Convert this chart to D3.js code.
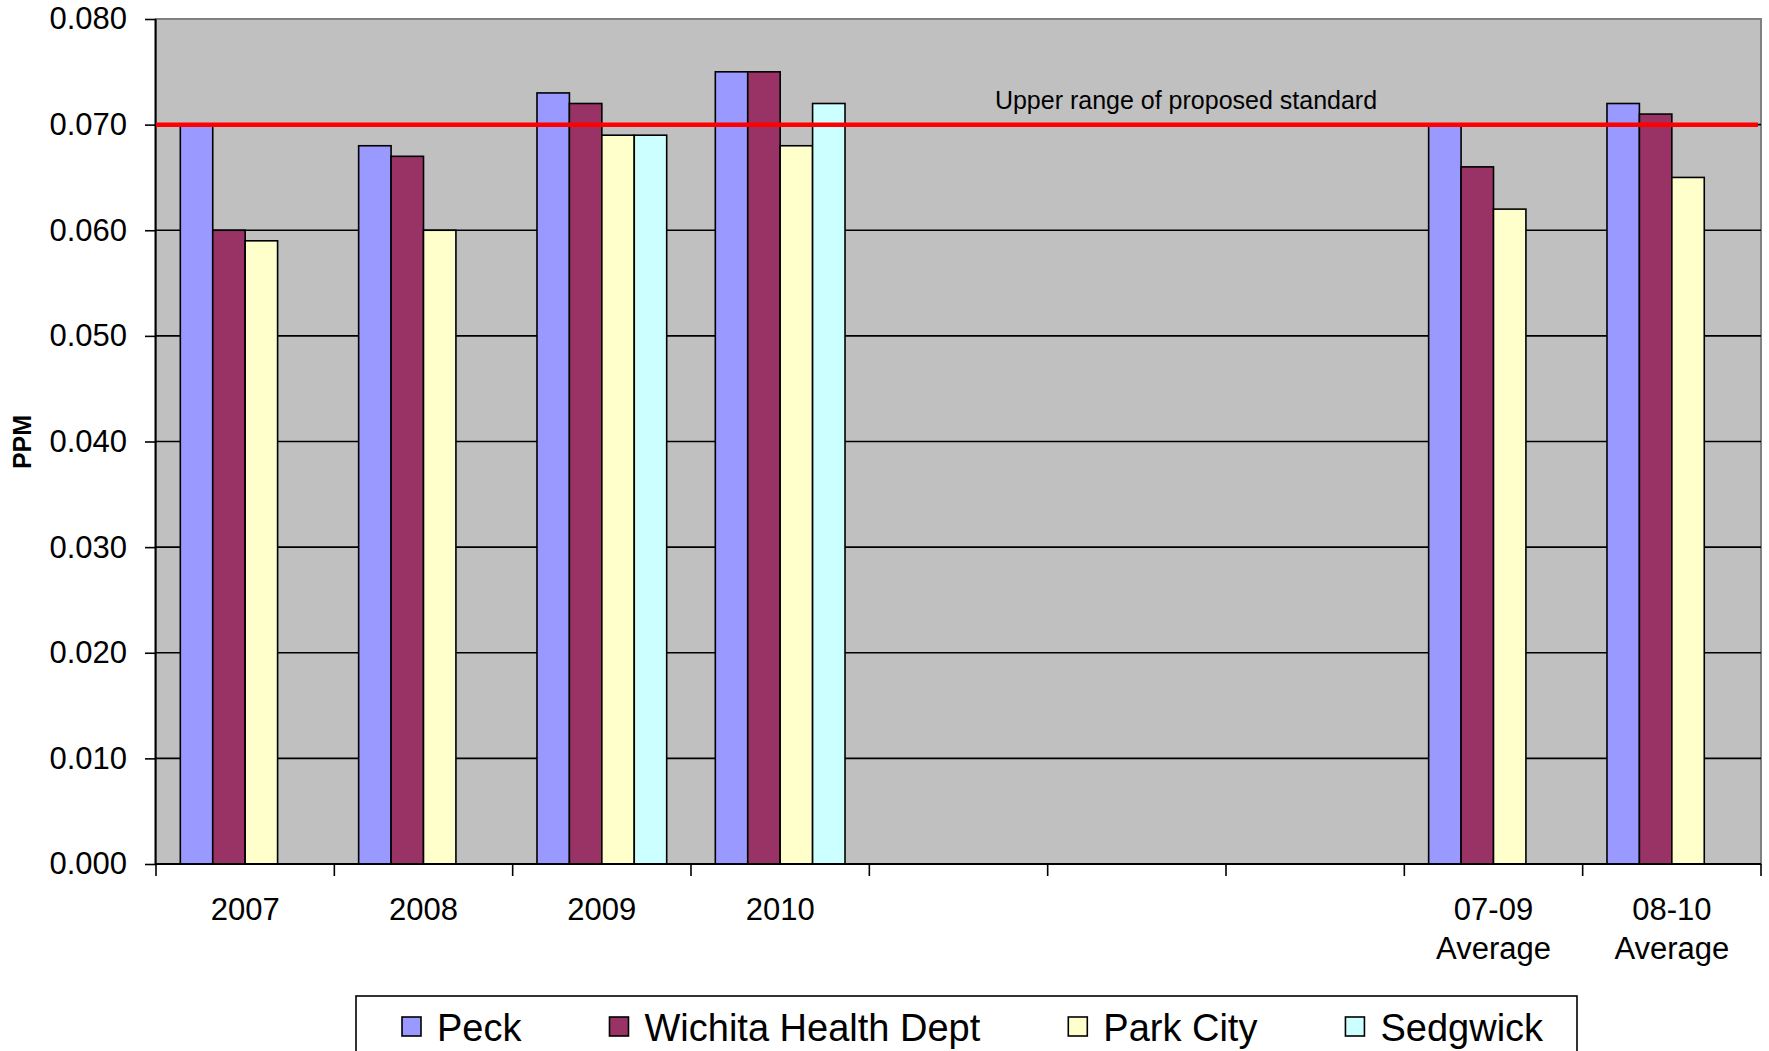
<!DOCTYPE html>
<html>
<head>
<meta charset="utf-8">
<script src="https://cdn.jsdelivr.net/npm/d3@7"></script>
<style>
  body { margin: 0; background: #fff; }
  svg { display: block; font-family: "Liberation Sans", Arial, sans-serif; }
</style>
</head>
<body>
<div id="chart"></div>
<script>
const categories = ["2007", "2008", "2009", "2010", "", "", "", "07-09 Average", "08-10 Average"];
const seriesNames = ["Peck", "Wichita Health Dept", "Park City", "Sedgwick"];
const peck      = [0.070, 0.068, 0.073, 0.075, null, null, null, 0.070, 0.072];
const wichita   = [0.060, 0.067, 0.072, 0.075, null, null, null, 0.066, 0.071];
const parkCity  = [0.059, 0.060, 0.069, 0.068, null, null, null, 0.062, 0.065];
const sedgwick  = [null,  null,  0.069, 0.072, null, null, null, null,  null];
const yTicks = [0.000, 0.010, 0.020, 0.030, 0.040, 0.050, 0.060, 0.070, 0.080];
const standardValue = 0.070;
const standardLabel = "Upper range of proposed standard";
const yTitle = "PPM";

const seriesValues = [peck, wichita, parkCity, sedgwick];
const colors = ["#9999ff", "#993366", "#ffffcc", "#ccffff"];

const width = 1769, height = 1051;
const plot = { left: 156, right: 1761, top: 19, bottom: 864 };

const svg = d3.select("#chart").append("svg")
    .attr("width", width)
    .attr("height", height);

svg.append("rect").attr("width", width).attr("height", height).attr("fill", "#fff");

const x0 = d3.scaleBand()
    .domain(d3.range(categories.length))
    .range([plot.left, plot.right])
    .padding(0);

// excel style: gap width 150% of one bar
const cw = x0.bandwidth();
const barW = cw / (seriesNames.length + 1.5);
const x1 = d3.scaleBand()
    .domain(seriesNames)
    .range([barW * 0.75, cw - barW * 0.75]);

const y = d3.scaleLinear()
    .domain([0, 0.08])
    .range([plot.bottom, plot.top]);

// plot background
svg.append("rect")
    .attr("x", plot.left).attr("y", plot.top)
    .attr("width", plot.right - plot.left)
    .attr("height", plot.bottom - plot.top)
    .attr("fill", "#c0c0c0")
    .attr("stroke", "#808080")
    .attr("stroke-width", 2);

// gridlines
svg.append("g")
    .selectAll("line")
    .data(yTicks.filter(d => d > 0 && d < 0.08))
    .join("line")
    .attr("x1", plot.left).attr("x2", plot.right)
    .attr("y1", d => y(d)).attr("y2", d => y(d))
    .attr("stroke", "#000")
    .attr("stroke-width", 1.6);

// bars
const groups = svg.append("g")
    .selectAll("g")
    .data(seriesNames.map((name, i) => ({ name, color: colors[i], values: seriesValues[i] })))
    .join("g")
    .attr("fill", d => d.color);

groups.selectAll("rect")
    .data(s => s.values.map((v, i) => ({ name: s.name, v, i })).filter(d => d.v != null))
    .join("rect")
    .attr("x", d => x0(d.i) + x1(d.name))
    .attr("width", x1.bandwidth())
    .attr("y", d => y(d.v))
    .attr("height", d => y(0) - y(d.v))
    .attr("stroke", "#000")
    .attr("stroke-width", 1.6);

// y axis
const yAxis = svg.append("g")
    .attr("transform", `translate(${plot.left},0)`)
    .call(d3.axisLeft(y).tickValues(yTicks).tickSize(11).tickPadding(18).tickFormat(d3.format(".3f")));
yAxis.select(".domain").attr("stroke-width", 2).attr("d", `M-0.5,${plot.top}V${plot.bottom}`);
yAxis.selectAll(".tick line").attr("stroke-width", 1.6);
yAxis.selectAll("text").attr("font-size", 31).attr("fill", "#000")
    .attr("font-family", "'Liberation Sans', Arial, sans-serif");

// x axis: ticks at category boundaries
const boundaries = d3.range(categories.length + 1).map(i => plot.left + i * cw);
svg.append("line")
    .attr("x1", plot.left).attr("x2", plot.right)
    .attr("y1", plot.bottom).attr("y2", plot.bottom)
    .attr("stroke", "#000").attr("stroke-width", 2);
svg.append("g")
    .selectAll("line")
    .data(boundaries)
    .join("line")
    .attr("x1", d => d).attr("x2", d => d)
    .attr("y1", plot.bottom).attr("y2", plot.bottom + 12)
    .attr("stroke", "#000").attr("stroke-width", 1.6);

const xLabels = svg.append("g")
    .selectAll("text")
    .data(categories.map((c, i) => ({ c, i })))
    .join("text")
    .attr("x", d => x0(d.i) + cw / 2)
    .attr("y", 920)
    .attr("text-anchor", "middle")
    .attr("font-size", 31)
    .attr("fill", "#000");
xLabels.each(function (d) {
    const parts = d.c.split(" ");
    d3.select(this).selectAll("tspan")
        .data(parts)
        .join("tspan")
        .attr("x", x0(d.i) + cw / 2)
        .attr("dy", (p, k) => k === 0 ? 0 : 39)
        .text(p => p);
});

// y title
svg.append("text")
    .attr("transform", `translate(31,442) rotate(-90)`)
    .attr("text-anchor", "middle")
    .attr("font-size", 25)
    .attr("font-weight", "bold")
    .text(yTitle);

// standard line
svg.append("line")
    .attr("x1", plot.left).attr("x2", plot.right - 3)
    .attr("y1", y(standardValue)).attr("y2", y(standardValue))
    .attr("stroke", "#ff0000")
    .attr("stroke-width", 4.5);
svg.append("text")
    .attr("x", 1186)
    .attr("y", y(standardValue) - 16)
    .attr("text-anchor", "middle")
    .attr("font-size", 25)
    .text(standardLabel);

// legend
const legend = svg.append("g");
legend.append("rect")
    .attr("x", 356).attr("y", 996)
    .attr("width", 1577 - 356).attr("height", 120)
    .attr("fill", "#fff")
    .attr("stroke", "#000")
    .attr("stroke-width", 1.6);

let lx = 402;
seriesNames.forEach((name, i) => {
    legend.append("rect")
        .attr("x", lx).attr("y", 1017)
        .attr("width", 19).attr("height", 19)
        .attr("fill", colors[i])
        .attr("stroke", "#000")
        .attr("stroke-width", 1.6);
    const t = legend.append("text")
        .attr("x", lx + 35).attr("y", 1041)
        .attr("font-size", 38)
        .text(name);
    lx += 35 + t.node().getComputedTextLength() + 88;
});
</script>
</body>
</html>
